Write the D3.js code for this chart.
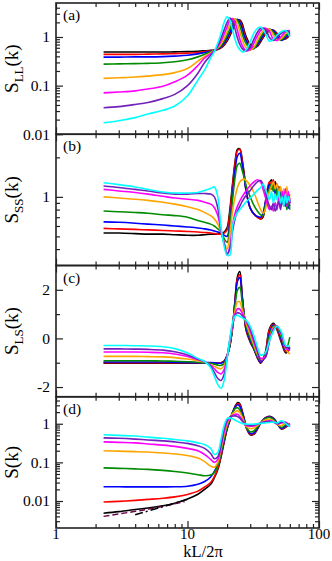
<!DOCTYPE html>
<html>
<head>
<meta charset="utf-8">
<script src="https://cdnjs.cloudflare.com/ajax/libs/d3/7.8.5/d3.min.js"></script>
<style>
  body { margin: 0; background: #fff; }
  svg { display: block; }
</style>
</head>
<body>
<script>
// Structure factors, 4 stacked panels

// k grid (kL/2pi) used by panels a, c, d
var K = [2.3, 3, 4, 5, 6.5, 8, 10, 12, 13.5, 15, 16, 17, 18, 19, 20, 21, 22, 23, 24, 25, 26, 27, 28, 30, 32, 34, 36, 39, 42, 45, 48, 52, 56, 60];
// panel b is noisy at large k, so it gets a finer grid there
var KB = [2.3, 3, 4, 5, 6.5, 8, 10, 12, 13.5, 15, 16, 17, 18, 19, 20, 21, 22, 23, 24, 25, 26, 27, 28, 30, 32, 34, 36,
          37.5, 39, 40.5, 42, 43.5, 45, 46.5, 48, 49.5, 51, 52.5, 54, 55.5, 57, 58.5, 60];

// series order in every panel: black, red, blue, green, orange, magenta, indigo, cyan
var sLL = [
  [0.49, 0.49, 0.49, 0.49, 0.49, 0.495, 0.5, 0.51, 0.52, 0.53, 0.54, 0.555, 0.6, 0.68, 0.82, 1.05, 1.42, 1.85, 2.2, 2.25, 1.9, 1.35, 1.0, 0.7, 0.62, 0.64, 0.8, 1.12, 1.35, 1.38, 1.18, 0.9, 0.92, 1.1],
  [0.44, 0.44, 0.44, 0.445, 0.45, 0.455, 0.465, 0.48, 0.5, 0.52, 0.54, 0.56, 0.61, 0.71, 0.88, 1.15, 1.55, 2.0, 2.28, 2.15, 1.7, 1.2, 0.9, 0.66, 0.6, 0.66, 0.85, 1.18, 1.38, 1.38, 1.12, 0.88, 0.95, 1.15],
  [0.385, 0.385, 0.39, 0.39, 0.395, 0.405, 0.42, 0.45, 0.48, 0.51, 0.54, 0.57, 0.63, 0.75, 0.95, 1.25, 1.7, 2.1, 2.3, 2.0, 1.5, 1.05, 0.82, 0.62, 0.58, 0.68, 0.9, 1.25, 1.42, 1.35, 1.05, 0.85, 1.0, 1.2],
  [0.277, 0.28, 0.283, 0.287, 0.295, 0.31, 0.34, 0.39, 0.44, 0.5, 0.54, 0.58, 0.66, 0.82, 1.08, 1.45, 1.95, 2.3, 2.2, 1.7, 1.2, 0.88, 0.72, 0.57, 0.58, 0.75, 1.0, 1.35, 1.45, 1.25, 0.95, 0.88, 1.1, 1.25],
  [0.141, 0.145, 0.15, 0.157, 0.168, 0.185, 0.225, 0.32, 0.4, 0.47, 0.535, 0.6, 0.72, 0.95, 1.3, 1.8, 2.3, 2.35, 1.85, 1.3, 0.9, 0.7, 0.6, 0.53, 0.62, 0.85, 1.15, 1.45, 1.45, 1.1, 0.85, 0.95, 1.2, 1.35],
  [0.071, 0.074, 0.078, 0.085, 0.097, 0.12, 0.165, 0.26, 0.37, 0.45, 0.53, 0.63, 0.82, 1.15, 1.6, 2.2, 2.4, 1.95, 1.35, 0.9, 0.68, 0.57, 0.52, 0.55, 0.75, 1.05, 1.35, 1.52, 1.3, 0.9, 0.85, 1.05, 1.3, 1.35],
  [0.035, 0.037, 0.041, 0.045, 0.054, 0.066, 0.1, 0.18, 0.3, 0.42, 0.52, 0.66, 0.95, 1.4, 2.0, 2.45, 2.1, 1.45, 0.95, 0.7, 0.58, 0.53, 0.52, 0.62, 0.9, 1.25, 1.5, 1.45, 0.98, 0.85, 1.0, 1.2, 1.35, 1.25],
  [0.0173, 0.019, 0.022, 0.026, 0.031, 0.038, 0.062, 0.13, 0.21, 0.37, 0.5, 0.75, 1.2, 2.0, 2.6, 2.2, 1.4, 0.9, 0.65, 0.55, 0.5, 0.5, 0.55, 0.8, 1.2, 1.5, 1.6, 1.2, 0.82, 0.9, 1.1, 1.3, 1.35, 1.0]
];

var sSS = [
  [0.53, 0.53, 0.525, 0.52, 0.52, 0.515, 0.51, 0.51, 0.515, 0.52, 0.52, 0.52, 0.525, 0.54, 0.58, 0.8, 1.25, 1.85, 2.3, 2.32, 1.95, 1.5, 1.1, 0.82, 0.74, 0.7, 0.68,
   0.7, 0.85, 1.1, 1.28, 1.35, 1.2, 1.3, 1.1, 1.2, 0.95, 1.1, 0.9, 1.05, 0.85, 1.0, 0.9],
  [0.575, 0.57, 0.565, 0.56, 0.555, 0.55, 0.545, 0.54, 0.535, 0.53, 0.525, 0.52, 0.52, 0.53, 0.56, 0.75, 1.2, 1.8, 2.25, 2.3, 1.9, 1.45, 1.1, 0.82, 0.74, 0.7, 0.68,
   0.72, 0.9, 1.15, 1.3, 1.2, 1.35, 1.1, 1.25, 1.0, 1.15, 0.95, 1.1, 0.88, 1.05, 0.85, 0.98],
  [0.645, 0.64, 0.63, 0.62, 0.61, 0.6, 0.59, 0.58, 0.57, 0.56, 0.55, 0.54, 0.53, 0.51, 0.5, 0.65, 1.05, 1.6, 2.05, 2.15, 1.8, 1.4, 1.08, 0.82, 0.74, 0.71, 0.7,
   0.75, 0.9, 1.1, 1.25, 1.15, 1.3, 1.05, 1.2, 0.95, 1.1, 0.9, 1.05, 0.85, 1.0, 0.82, 0.95],
  [0.78, 0.77, 0.76, 0.75, 0.73, 0.72, 0.7, 0.66, 0.64, 0.62, 0.6, 0.57, 0.54, 0.48, 0.45, 0.6, 0.95, 1.4, 1.75, 1.8, 1.6, 1.4, 1.2, 1.0, 0.86, 0.78, 0.73,
   0.72, 0.85, 1.0, 1.15, 1.25, 1.1, 1.2, 1.0, 1.15, 0.95, 1.05, 0.85, 1.0, 0.8, 0.95, 0.8],
  [1.0, 0.98, 0.96, 0.94, 0.91, 0.88, 0.84, 0.8, 0.76, 0.72, 0.68, 0.62, 0.54, 0.45, 0.4, 0.52, 0.78, 1.0, 1.18, 1.3, 1.35, 1.37, 1.33, 1.22, 1.08, 0.92, 0.8,
   0.75, 0.8, 0.95, 1.1, 1.2, 1.3, 1.15, 1.25, 1.05, 1.2, 1.0, 1.15, 0.95, 1.2, 0.9, 1.05],
  [1.14, 1.11, 1.08, 1.05, 1.01, 0.98, 0.96, 0.94, 0.91, 0.88, 0.83, 0.72, 0.55, 0.44, 0.36, 0.42, 0.6, 0.75, 0.85, 0.93, 1.0, 1.06, 1.12, 1.22, 1.3, 1.35, 1.3,
   1.15, 1.0, 0.88, 0.8, 0.85, 0.78, 0.9, 0.8, 1.0, 0.85, 1.1, 0.95, 1.15, 0.85, 1.1, 0.9],
  [1.21, 1.18, 1.14, 1.11, 1.07, 1.05, 1.05, 1.06, 1.06, 1.05, 1.0, 0.82, 0.56, 0.44, 0.37, 0.4, 0.55, 0.68, 0.78, 0.85, 0.92, 0.98, 1.03, 1.12, 1.22, 1.3, 1.33,
   1.25, 1.1, 0.95, 0.85, 0.8, 0.9, 0.78, 0.85, 0.92, 0.8, 0.95, 0.85, 1.0, 0.88, 0.95, 0.85],
  [1.28, 1.24, 1.19, 1.14, 1.09, 1.07, 1.07, 1.08, 1.12, 1.16, 1.19, 1.0, 0.58, 0.42, 0.36, 0.36, 0.6, 0.7, 0.76, 0.8, 0.84, 0.88, 0.92, 0.98, 1.05, 1.12, 1.18,
   1.25, 1.15, 1.05, 0.95, 1.1, 0.9, 1.05, 0.95, 1.1, 0.9, 1.0, 0.85, 1.05, 0.9, 1.0, 0.92]
];

var sLS = [
  [-1.02, -1.02, -1.02, -1.02, -1.02, -1.02, -1.02, -1.02, -1.01, -1.0, -1.0, -1.01, -1.0, -0.93, -0.7, -0.3, 0.45, 1.6, 2.55, 2.75, 1.8, 0.9, 0.3, -0.15, -0.45, -0.8, -1.02, -0.6, 0.4, 0.62, 0.35, -0.2, -0.6, -0.4],
  [-1.0, -1.0, -1.0, -1.0, -1.0, -1.0, -1.0, -1.0, -1.0, -1.0, -1.0, -1.01, -1.0, -0.94, -0.71, -0.3, 0.45, 1.55, 2.45, 2.62, 1.75, 0.92, 0.33, -0.12, -0.43, -0.78, -1.0, -0.65, 0.35, 0.58, 0.38, -0.15, -0.55, -0.45],
  [-0.97, -0.97, -0.97, -0.97, -0.97, -0.98, -0.99, -1.0, -1.0, -0.99, -1.0, -1.02, -1.02, -0.96, -0.73, -0.3, 0.45, 1.5, 2.35, 2.5, 1.75, 0.95, 0.4, -0.08, -0.42, -0.76, -0.98, -0.7, 0.2, 0.55, 0.45, -0.1, -0.5, -0.35],
  [-0.92, -0.92, -0.92, -0.92, -0.93, -0.94, -0.96, -0.98, -1.0, -1.02, -1.06, -1.1, -1.11, -1.03, -0.75, -0.25, 0.45, 1.35, 2.0, 2.1, 1.55, 0.95, 0.5, 0.0, -0.38, -0.72, -0.92, -0.7, 0.1, 0.5, 0.45, 0.0, -0.45, 0.05],
  [-0.74, -0.74, -0.74, -0.75, -0.76, -0.79, -0.85, -0.92, -0.97, -1.08, -1.15, -1.22, -1.25, -1.12, -0.75, -0.15, 0.5, 1.15, 1.5, 1.5, 1.2, 0.9, 0.6, 0.15, -0.28, -0.65, -0.88, -0.75, -0.05, 0.45, 0.5, 0.1, -0.45, -0.65],
  [-0.56, -0.56, -0.56, -0.57, -0.59, -0.64, -0.74, -0.88, -0.96, -1.1, -1.25, -1.4, -1.46, -1.28, -0.75, -0.1, 0.5, 1.0, 1.22, 1.2, 1.05, 0.88, 0.7, 0.3, -0.15, -0.55, -0.82, -0.75, -0.1, 0.4, 0.5, 0.15, -0.4, -0.5],
  [-0.43, -0.43, -0.44, -0.45, -0.48, -0.55, -0.68, -0.85, -0.95, -1.15, -1.4, -1.65, -1.73, -1.48, -0.78, -0.05, 0.55, 0.95, 1.06, 1.03, 0.95, 0.85, 0.72, 0.4, -0.05, -0.5, -0.92, -0.8, -0.1, 0.35, 0.5, 0.15, -0.35, -0.4],
  [-0.29, -0.29, -0.3, -0.31, -0.34, -0.42, -0.6, -0.82, -0.95, -1.2, -1.55, -1.9, -2.05, -1.72, -0.85, 0.0, 0.65, 0.92, 0.95, 0.9, 0.85, 0.8, 0.74, 0.5, 0.1, -0.35, -0.68, -0.6, -0.1, 0.3, 0.5, 0.25, -0.3, -0.3]
];

var sTot = [
  [0.00484, 0.0053, 0.006, 0.0066, 0.0075, 0.0088, 0.0113, 0.015, 0.02, 0.027, 0.04, 0.065, 0.14, 0.33, 0.72, 1.2, 1.95, 2.8, 3.5, 3.3, 2.2, 1.35, 0.8, 0.52, 0.53, 0.72, 1.02, 1.42, 1.55, 1.4, 1.05, 0.73, 0.82, 1.0],
  [0.0094, 0.0098, 0.0104, 0.011, 0.0118, 0.0128, 0.0148, 0.018, 0.023, 0.03, 0.043, 0.07, 0.15, 0.35, 0.75, 1.25, 1.95, 2.7, 3.3, 3.1, 2.1, 1.3, 0.8, 0.53, 0.55, 0.75, 1.05, 1.42, 1.52, 1.38, 1.02, 0.74, 0.85, 1.0],
  [0.0233, 0.0233, 0.0232, 0.0232, 0.0232, 0.0233, 0.024, 0.027, 0.032, 0.042, 0.058, 0.09, 0.17, 0.38, 0.78, 1.3, 1.95, 2.65, 3.1, 2.8, 1.95, 1.25, 0.82, 0.56, 0.58, 0.78, 1.05, 1.4, 1.5, 1.35, 1.0, 0.76, 0.88, 1.0],
  [0.072, 0.07, 0.068, 0.066, 0.062, 0.058, 0.053, 0.048, 0.045, 0.047, 0.055, 0.085, 0.18, 0.42, 0.85, 1.35, 1.9, 2.45, 2.6, 2.3, 1.65, 1.15, 0.8, 0.62, 0.65, 0.82, 1.05, 1.35, 1.45, 1.3, 1.0, 0.8, 0.95, 1.0],
  [0.2, 0.195, 0.19, 0.185, 0.175, 0.165, 0.15, 0.13, 0.105, 0.08, 0.075, 0.1, 0.22, 0.5, 0.95, 1.4, 1.8, 2.05, 2.15, 1.95, 1.5, 1.1, 0.85, 0.75, 0.78, 0.9, 1.05, 1.25, 1.3, 1.2, 0.95, 0.9, 1.05, 0.95],
  [0.34, 0.33, 0.32, 0.3, 0.28, 0.26, 0.23, 0.2, 0.16, 0.12, 0.1, 0.12, 0.26, 0.62, 1.1, 1.45, 1.65, 1.77, 1.75, 1.55, 1.25, 1.0, 0.9, 0.86, 0.88, 0.95, 1.05, 1.15, 1.2, 1.15, 1.0, 1.05, 1.1, 0.85],
  [0.43, 0.42, 0.4, 0.38, 0.36, 0.34, 0.31, 0.27, 0.23, 0.17, 0.125, 0.14, 0.3, 0.75, 1.25, 1.5, 1.58, 1.6, 1.55, 1.4, 1.2, 1.05, 0.95, 0.9, 0.92, 0.98, 1.05, 1.12, 1.15, 1.1, 1.0, 1.1, 1.05, 0.85],
  [0.52, 0.5, 0.48, 0.45, 0.42, 0.39, 0.36, 0.32, 0.29, 0.23, 0.16, 0.18, 0.4, 0.9, 1.35, 1.42, 1.35, 1.25, 1.15, 1.08, 1.02, 1.0, 0.98, 0.97, 0.98, 1.0, 1.02, 1.05, 1.08, 1.1, 1.05, 1.2, 1.0, 0.85]
];

// small-k reference lines in panel d
var dashK = [2.3, 4, 6, 9.5];
var dashS = [0.004, 0.0054, 0.0069, 0.0096];
var dotK = [4, 10];
var dotS = [0.0044, 0.011];

var xTickLabels = [1, 10, 100];
var panelTags = ["(a)", "(b)", "(c)", "(d)"];

var colors = ["#000000", "#ff0000", "#0000ff", "#008b00", "#ffa500", "#ff00ff", "#7221bc", "#00ffff"];
var serif = "'Liberation Serif', 'Times New Roman', serif";

var margin = {top: 3, left: 56, right: 13},
    width = 332 - margin.left - margin.right,
    ph = 131.25;

var svg = d3.select("body").append("svg")
    .attr("width", 332)
    .attr("height", 561)
    .attr("font-family", serif);

var x = d3.scaleLog().domain([1, 100]).range([0, width]);

function logMinor(lo, hi) {
  var out = [];
  for (var p = Math.floor(Math.log10(lo)); p <= Math.ceil(Math.log10(hi)); p++) {
    for (var m = 1; m < 10; m++) {
      var v = m * Math.pow(10, p);
      if (v > lo * 1.0001 && v < hi * 0.9999) out.push(v);
    }
  }
  return out;
}

var xMajor = [1, 10, 100], xMinor = logMinor(1, 100).filter(function(v) { return xMajor.indexOf(v) < 0; });

var panels = [
  {data: sLL, k: K, y: d3.scaleLog().domain([0.01, 5]), labels: [0.01, 0.1, 1], major: [0.01, 0.1, 1], sub: "LL", title: "S"},
  {data: sSS, k: KB, y: d3.scaleLog().domain([0.3, 3]), labels: [1], major: [1], sub: "SS", title: "S"},
  {data: sLS, k: K, y: d3.scaleLinear().domain([-2.4, 3]), labels: [-2, 0, 2], major: [-2, 0, 2], minor: [-1, 1], sub: "LS", title: "S"},
  {data: sTot, k: K, y: d3.scaleLog().domain([0.002, 5]), labels: [0.01, 0.1, 1], major: [0.01, 0.1, 1], sub: "", title: "S"}
];

var line = d3.line().curve(d3.curveCatmullRom.alpha(0.5));

panels.forEach(function(p, i) {
  var top = margin.top + i * ph;
  p.y.range([ph, 0]);
  var g = svg.append("g").attr("transform", "translate(" + margin.left + "," + top + ")");

  g.append("clipPath").attr("id", "clip" + i)
    .append("rect").attr("width", width).attr("height", ph);

  var minor = p.minor || logMinor(p.y.domain()[0], p.y.domain()[1]).filter(function(v) { return p.major.indexOf(v) < 0; });

  // ticks pointing inward on all four sides
  [[d3.axisBottom, 0, xMajor, 7], [d3.axisBottom, 0, xMinor, 4], [d3.axisTop, ph, xMajor, 7], [d3.axisTop, ph, xMinor, 4]].forEach(function(a) {
    g.append("g").attr("transform", "translate(0," + a[1] + ")")
      .call(a[0](x).tickValues(a[2]).tickSize(a[3]).tickFormat(""))
      .call(function(s) { s.select(".domain").remove(); });
  });
  [[d3.axisRight, 0, p.major, 7], [d3.axisRight, 0, minor, 4], [d3.axisLeft, width, p.major, 7], [d3.axisLeft, width, minor, 4]].forEach(function(a) {
    g.append("g").attr("transform", "translate(" + a[1] + ",0)")
      .call(a[0](p.y).tickValues(a[2]).tickSize(a[3]).tickFormat(""))
      .call(function(s) { s.select(".domain").remove(); });
  });
  g.selectAll(".tick line").attr("stroke", "#222").attr("stroke-width", 1.2);

  // y tick labels
  g.append("g")
    .call(d3.axisLeft(p.y).tickValues(p.labels).tickSize(0).tickPadding(6).tickFormat(function(d) { return String(d); }))
    .call(function(s) { s.select(".domain").remove(); })
    .attr("font-family", serif).attr("font-size", 15.5);

  // curves
  var lines = g.append("g").attr("clip-path", "url(#clip" + i + ")");
  p.data.forEach(function(vals, j) {
    lines.append("path")
      .attr("d", line(vals.map(function(v, n) { return [x(p.k[n]), p.y(v)]; })))
      .attr("fill", "none")
      .attr("stroke", colors[j])
      .attr("stroke-width", 1.6);
  });

  if (i == 3) {
    lines.append("path")
      .attr("d", line(dashS.map(function(v, n) { return [x(dashK[n]), p.y(v)]; })))
      .attr("fill", "none").attr("stroke", "#670748").attr("stroke-width", 1.5)
      .attr("stroke-dasharray", "6,3");
    lines.append("path")
      .attr("d", d3.line()(dotS.map(function(v, n) { return [x(dotK[n]), p.y(v)]; })))
      .attr("fill", "none").attr("stroke", "#000").attr("stroke-width", 1.5)
      .attr("stroke-dasharray", "8,3,2,3");
  }

  // frame
  g.append("rect").attr("width", width).attr("height", ph)
    .attr("fill", "none").attr("stroke", "#222").attr("stroke-width", 1.6);

  // panel tag
  g.append("text").attr("x", 7).attr("y", 17).attr("font-size", 15.5).text(panelTags[i]);

  // y title
  var t = svg.append("text")
    .attr("transform", "translate(18," + (top + ph / 2) + ") rotate(-90)")
    .attr("text-anchor", "middle")
    .attr("font-size", 19);
  t.append("tspan").text(p.title);
  if (p.sub) {
    t.append("tspan").attr("font-size", 13).attr("dy", 5).text(p.sub);
    t.append("tspan").attr("dy", -5).text("(k)");
  } else {
    t.append("tspan").text("(k)");
  }
});

// x tick labels and title under the last panel
var bottom = margin.top + 4 * ph;
svg.append("g").selectAll("text")
    .data(xTickLabels)
  .enter().append("text")
    .attr("x", function(d) { return margin.left + x(d); })
    .attr("y", bottom + 10.5)
    .attr("text-anchor", "middle")
    .attr("font-size", 15)
    .text(function(d) { return String(d); });

svg.append("text")
    .attr("x", 203)
    .attr("y", 556.5)
    .attr("text-anchor", "middle")
    .attr("font-size", 16.5)
    .text("kL/2\u03c0");
</script>
</body>
</html>
